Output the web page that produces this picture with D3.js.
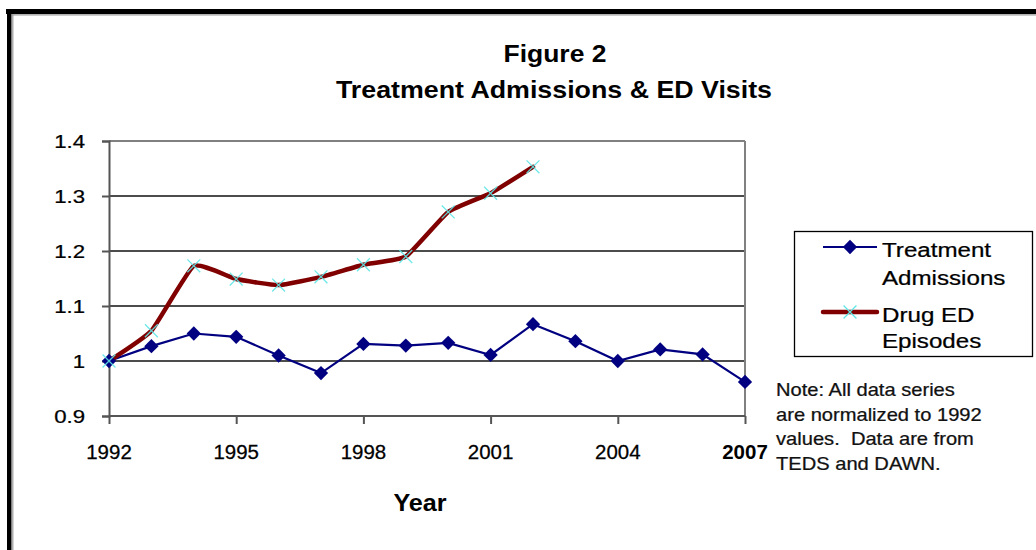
<!DOCTYPE html>
<html><head><meta charset="utf-8">
<script src="https://cdn.jsdelivr.net/npm/d3@7"></script>
<style>html,body{margin:0;padding:0;background:#fff;}svg{display:block;}</style>
</head><body>
<script>
const years = [1992,1993,1994,1995,1996,1997,1998,1999,2000,2001,2002,2003,2004,2005,2006,2007];
const treatment = [1.000,1.027,1.050,1.044,1.010,0.978,1.031,1.028,1.033,1.011,1.067,1.036,1.000,1.021,1.012,0.962];
const edYears = [1992,1993,1994,1995,1996,1997,1998,1999,2000,2001,2002];
const drugED = [1.000,1.055,1.173,1.149,1.138,1.153,1.175,1.190,1.271,1.305,1.353];
const xTicks = [1992,1995,1998,2001,2004,2007];
const yTicks = [0.9,1.0,1.1,1.2,1.3,1.4];
const yTickLabels = ["0.9","1","1.1","1.2","1.3","1.4"];
const titleLines = ["Figure 2","Treatment Admissions & ED Visits"];
const seriesNames = [["Treatment","Admissions"],["Drug ED","Episodes"]];
const noteLines = ["Note: All data series","are normalized to 1992","values.  Data are from","TEDS and DAWN."];

const W=1036,H=550;
const svg=d3.select("body").append("svg").attr("width",W).attr("height",H);
svg.append("rect").attr("width",W).attr("height",H).attr("fill","#fff");
// frame
svg.append("rect").attr("x",6).attr("y",9).attr("width",W-6).attr("height",5).attr("fill","#000");
svg.append("rect").attr("x",7).attr("y",9).attr("width",4.5).attr("height",H-9).attr("fill","#000");
svg.append("line").attr("x1",12).attr("x2",W).attr("y1",14.8).attr("y2",14.8).attr("stroke","#999").attr("stroke-width",1.2);
svg.append("line").attr("x1",12.8).attr("x2",12.8).attr("y1",14).attr("y2",H).attr("stroke","#999").attr("stroke-width",1.2);

const font="Liberation Sans, Arial, sans-serif";
const sx=1.15;
function txt(g,x,y,s,size,opt={}){
  return g.append("text").attr("transform",`translate(${x},${y}) scale(${opt.sx||sx},1)`)
   .attr("text-anchor",opt.anchor||"start").attr("font-family",font).attr("font-size",size)
   .attr("font-weight",opt.bold?"bold":"normal").attr("fill",opt.fill||"#000")
   .attr("stroke",opt.bold?"none":(opt.fill||"#000")).attr("stroke-width",0.25).text(s);
}

const x=d3.scaleLinear().domain([1992,2007]).range([109,745]);
const y=d3.scaleLinear().domain([0.9,1.4]).range([416,141]);

// gridlines
svg.append("g").selectAll("line").data(yTicks.slice(1,5)).join("line")
 .attr("x1",x(1992)).attr("x2",x(2007)).attr("y1",d=>y(d)).attr("y2",d=>y(d))
 .attr("stroke","#111").attr("stroke-width",1.3);
// plot border top/right
svg.append("line").attr("x1",x(1992)).attr("x2",x(2007)).attr("y1",y(1.4)).attr("y2",y(1.4)).attr("stroke","#808080").attr("stroke-width",2);
svg.append("line").attr("x1",x(2007)).attr("x2",x(2007)).attr("y1",y(1.4)).attr("y2",y(0.9)).attr("stroke","#808080").attr("stroke-width",2);

// axes
const yAxis=d3.axisLeft(y).tickValues(yTicks).tickSize(7).tickFormat("");
const gy=svg.append("g").attr("transform",`translate(${x(1992)},0)`).call(yAxis);
gy.selectAll("path,line").attr("stroke","#555").attr("stroke-width",2);
const xAxis=d3.axisBottom(x).tickValues(xTicks).tickSize(8).tickFormat("");
const gx=svg.append("g").attr("transform",`translate(0,${y(0.9)})`).call(xAxis);
gx.selectAll("path,line").attr("stroke","#555").attr("stroke-width",2);
gx.select("path").attr("d",`M${x(1992)},0H${x(2007)}`);

// y labels
yTicks.forEach((v,i)=>txt(svg,85,y(v)+6.5,yTickLabels[i],18.5,{anchor:"end",sx:1.2}));
// x labels
xTicks.forEach(v=>txt(svg,x(v),459,String(v),19.5,{anchor:"middle",sx:1.05,bold:v===2007}));

// titles
txt(svg,555,62,titleLines[0],23,{anchor:"middle",bold:true});
txt(svg,554,98,titleLines[1],23,{anchor:"middle",bold:true,sx:1.165});
txt(svg,420,511,"Year",24,{anchor:"middle",bold:true,sx:1.05});

// series
const blue="#000080", red="#800000", cyan="#5fe6e6";
const lineB=d3.line().x((d,i)=>x(years[i])).y(d=>y(d));
svg.append("path").datum(treatment).attr("d",lineB).attr("fill","none").attr("stroke",blue).attr("stroke-width",2.2);
const lineR=d3.line().x((d,i)=>x(edYears[i])).y(d=>y(d)).curve(d3.curveCardinal.tension(0.6));
svg.append("path").datum(drugED).attr("d",lineR).attr("fill","none").attr("stroke",red).attr("stroke-width",4.5).attr("stroke-linecap","round").attr("stroke-linejoin","round");

const diamond=d3.symbol().type(d3.symbolDiamond2).size(130);
svg.append("g").selectAll("path").data(treatment).join("path")
 .attr("transform",(d,i)=>`translate(${x(years[i])},${y(d)})`).attr("d",diamond).attr("fill",blue);
const cross=d3.symbol().type(d3.symbolX).size(110);
svg.append("g").selectAll("path").data(drugED).join("path")
 .attr("transform",(d,i)=>`translate(${x(edYears[i])},${y(d)})`).attr("d",cross)
 .attr("fill","none").attr("stroke",cyan).attr("stroke-width",1.3).attr("opacity",0.9);

// legend
svg.append("rect").attr("x",794.5).attr("y",231.5).attr("width",238).attr("height",125).attr("fill","#fff").attr("stroke","#000").attr("stroke-width",1.3);
svg.append("line").attr("x1",823).attr("x2",877).attr("y1",247).attr("y2",247).attr("stroke",blue).attr("stroke-width",2.2);
svg.append("path").attr("transform","translate(850,247)").attr("d",diamond).attr("fill",blue);
svg.append("line").attr("x1",823).attr("x2",877).attr("y1",312).attr("y2",312).attr("stroke",red).attr("stroke-width",4.5).attr("stroke-linecap","round");
svg.append("path").attr("transform","translate(850,312)").attr("d",cross).attr("fill","none").attr("stroke",cyan).attr("stroke-width",1.3);
txt(svg,882,257,seriesNames[0][0],21);
txt(svg,882,285,seriesNames[0][1],21);
txt(svg,882,322,seriesNames[1][0],21);
txt(svg,882,348,seriesNames[1][1],21);

// note
noteLines.forEach((s,i)=>txt(svg,776,396+i*24.5,s,17.5,{fill:"#111"}).attr("xml:space","preserve").style("white-space","pre"));
</script>
</body></html>
